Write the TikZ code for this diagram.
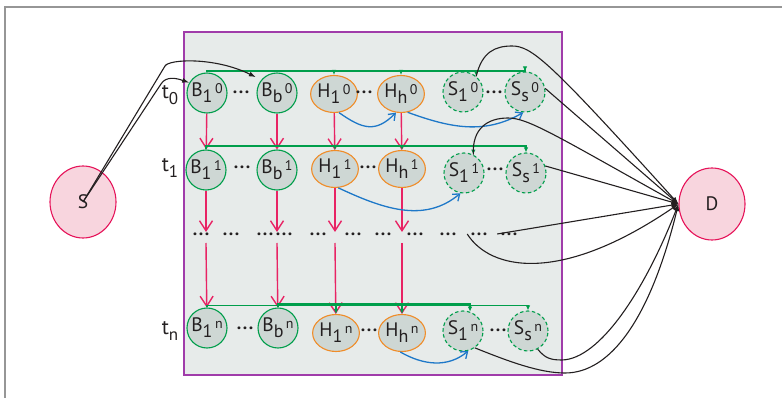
\documentclass[tikz,border=0pt]{standalone}
\usepackage{fontspec}
\setmainfont{PT Sans}
\usetikzlibrary{arrows.meta,shapes.geometric}
\definecolor{ink}{RGB}{35,31,32}
\definecolor{pinkline}{RGB}{232,35,100}
\definecolor{green}{RGB}{0,158,75}
\definecolor{orange}{RGB}{240,140,40}
\definecolor{blue}{RGB}{30,120,200}
\definecolor{cellgray}{RGB}{206,215,212}
\definecolor{boxgray}{RGB}{231,235,234}
\definecolor{purple}{RGB}{160,60,170}
\definecolor{rosefill}{RGB}{248,213,222}
\definecolor{rose}{RGB}{230,20,90}
\definecolor{frame}{RGB}{150,150,150}
\newcommand{\nd}[3]{#1\raisebox{-6pt}{\fontsize{18}{18}\selectfont#2}\hspace{2.5pt}\raisebox{3.8pt}{\fontsize{14}{14}\selectfont#3}}
\newcommand{\tl}[1]{t\raisebox{-6.5pt}{\fontsize{17}{17}\selectfont#1}}
\newcommand{\dts}{{\bfseries\fontsize{18}{18}\selectfont.\kern1.6pt.\kern1.6pt.}}

\begin{document}
\begin{tikzpicture}[x=1pt,y=-1pt,>=Latex,font=\fontsize{19.5}{20}\selectfont,text=ink,
  cell/.style={circle,draw,fill=cellgray,line width=1.1pt,minimum size=40pt,inner sep=0pt},
  bnode/.style={cell,draw=green},
  hnode/.style={cell,ellipse,draw=orange,minimum width=41pt,minimum height=37pt},
  snode/.style={cell,draw=green,dash pattern=on 3.5pt off 2.5pt},
  endpt/.style={ellipse,draw=rose,fill=rosefill,line width=1.1pt,minimum width=66pt,minimum height=72pt},
  dn/.style={-{Straight Barb[length=10pt,width=13pt]},pinkline,line width=1.4pt},
  tap/.style={-{Latex[length=5pt,width=4.5pt]},green,line width=1.2pt},
  hop/.style={-{Straight Barb[length=6pt,width=9pt]},blue,line width=1.3pt},
  sink/.style={-{Latex[length=7pt,width=5pt]},ink,line width=1.1pt}]
\useasboundingbox (0,0) rectangle (782,398);
\draw[frame,line width=1.5pt] (5,398) -- (5,7) -- (782,7);
\draw[purple,fill=boxgray,line width=1.3pt] (184,32) rectangle (562,375);

\node[endpt] (S) at (83,202) {S};
\node[endpt] (D) at (712,204) {D};
\node[font=\fontsize{21}{22}\selectfont] (t0) at (170,95) {\tl{0}};
\node[font=\fontsize{21}{22}\selectfont] (t1) at (170,168) {\tl{1}};
\node[font=\fontsize{21}{22}\selectfont] (tn) at (170,331) {\tl{n}};

\node[bnode] (B10) at (207,93) {\nd{B}{1}{0}};
\node[bnode] (Bb0) at (277,93) {\nd{B}{b}{0}};
\node[hnode] (H10) at (334,94) {\nd{H}{1}{0}};
\node[hnode] (Hh0) at (401,94) {\nd{H}{h}{0}};
\node[snode] (S10) at (463,92) {\nd{S}{1}{0}};
\node[snode] (Ss0) at (525,92) {\nd{S}{s}{0}};
\node (b0dots) at (241,92) {\dts};
\node (h0dots) at (364,92) {\dts};
\node (s0dots) at (494,92) {\dts};

\node[bnode] (B11) at (206,170) {\nd{B}{1}{1}};
\node[bnode] (Bb1) at (277,170) {\nd{B}{b}{1}};
\node[hnode] (H11) at (335,169) {\nd{H}{1}{1}};
\node[hnode] (Hh1) at (402,169) {\nd{H}{h}{1}};
\node[snode] (S11) at (464,173) {\nd{S}{1}{1}};
\node[snode] (Ss1) at (526,173) {\nd{S}{s}{1}};
\node (b1dots) at (242,167) {\dts};
\node (h1dots) at (368,167) {\dts};
\node (s1dots) at (495,169) {\dts};

\node (d1) at (201,234) {\dts};
\node (d2) at (231,234) {\dts};
\node (d3) at (265,234) {\dts};
\node (d4) at (284,234) {\dts};
\node (d5) at (318,234) {\dts};
\node (d6) at (353,234) {\dts};
\node (d7) at (383,234) {\dts};
\node (d8) at (415,234) {\dts};
\node (d9) at (448,234) {\dts};
\node (d10) at (479,234) {\dts};
\node (d11) at (509,234) {\dts};

\node[bnode] (B1n) at (207,328) {\nd{B}{1}{n}};
\node[bnode] (Bbn) at (278,328) {\nd{B}{b}{n}};
\node[hnode] (H1n) at (336,333) {\nd{H}{1}{n}};
\node[hnode] (Hhn) at (402,333) {\nd{H}{h}{n}};
\node[snode] (S1n) at (463,331) {\nd{S}{1}{n}};
\node[snode] (Ssn) at (528,331) {\nd{S}{s}{n}};
\node (bndots) at (245,328) {\dts};
\node (hndots) at (369,330) {\dts};
\node (sndots) at (498,330) {\dts};

\coordinate (B1mid) at (206,232); \coordinate (B1low) at (206,243);
\coordinate (Bbmid) at (277,232); \coordinate (Bblow) at (277,243);
\coordinate (H1mid) at (335,232); \coordinate (H1low) at (335,243);
\coordinate (Hhmid) at (402,232); \coordinate (Hhlow) at (402,243);
\coordinate (g0) at (207,71);
\coordinate (g1) at (206,146);
\coordinate (gn) at (207,305.5);
\coordinate (gb) at (278,304);

\draw[dn] (B10) -- (B11); \draw[dn] (Bb0) -- (Bb1);
\draw[dn] (H10) -- (H11); \draw[dn] (Hh0) -- (Hh1);
\draw[dn] (B11) -- (B1mid); \draw[dn] (Bb1) -- (Bbmid);
\draw[dn] (H11) -- (H1mid); \draw[dn] (Hh1) -- (Hhmid);
\draw[dn] (B1low) -- (B1n); \draw[dn] (Bblow) -- (Bbn);
\draw[dn] (H1low) -- (H1n); \draw[dn] (Hhlow) -- (Hhn);

\draw[tap] (B10.north) -- (g0) -| (Ss0.north);
\draw[tap] (g0 -| H10) -- (H10.north);
\draw[tap] (g0 -| Hh0) -- (Hh0.north);
\draw[tap] (g0 -| S10.50) -- (S10.50);
\draw[tap] (B11.north) -- (g1) -| (Ss1.north);
\draw[tap] (g1 -| H11) -- (H11.north);
\draw[tap] (g1 -| Hh1) -- (Hh1.north);
\draw[tap] (g1 -| S11.63) -- (S11.63);
\draw[tap] (B1n.north) -- (gn) -| (Ssn.north);
\draw[tap] (Bbn.north) -- (gb) -| (S1n.70);
\draw[tap] (gn -| H1n) -- (H1n.north);
\draw[tap] (gn -| Hhn) -- (Hhn.north);

\draw[hop] (H10.-75) to[out=-35,in=-135,looseness=1.3] (Hh0.-105);
\draw[hop] (Hh0.-70) to[out=-20,in=-150] (Ss0.-95);
\draw[hop] (H11.-80) to[out=-25,in=-140] (S11.-100);
\draw[hop] (Hhn.-95) to[out=-30,in=-140] (S1n.-75);

\draw[sink] (S.center) -- (161,84) .. controls (166,76) and (176,78) .. (B10.150);
\draw[sink,shorten >=6pt] (S.center) -- (165,66) .. controls (169,59) and (215,57) .. (Bb0.140);
\draw[sink] (S10.50) .. controls (482,52) and (495,46) .. (512,46) .. controls (532,46) and (550,62) .. (D.west);
\draw[sink] (Ss0.10) -- (D.west);
\draw[sink] (S11.63) .. controls (472,128) and (488,118) .. (508,118) .. controls (528,118) and (555,135) .. (D.west);
\draw[sink] (Ss1.20) -- (D.west);
\draw[sink] (d11.west) -- (D.west);
\draw[sink] (d10.west) .. controls (490,270) and (560,285) .. (D.west);
\draw[sink] (S1n.-55) .. controls (510,362) and (540,373) .. (565,373) .. controls (610,373) and (650,320) .. (D.west);
\draw[sink] (Ssn.-62) .. controls (545,358) and (550,360) .. (562,360) .. controls (600,359) and (645,290) .. (D.west);
\end{tikzpicture}
\end{document}
